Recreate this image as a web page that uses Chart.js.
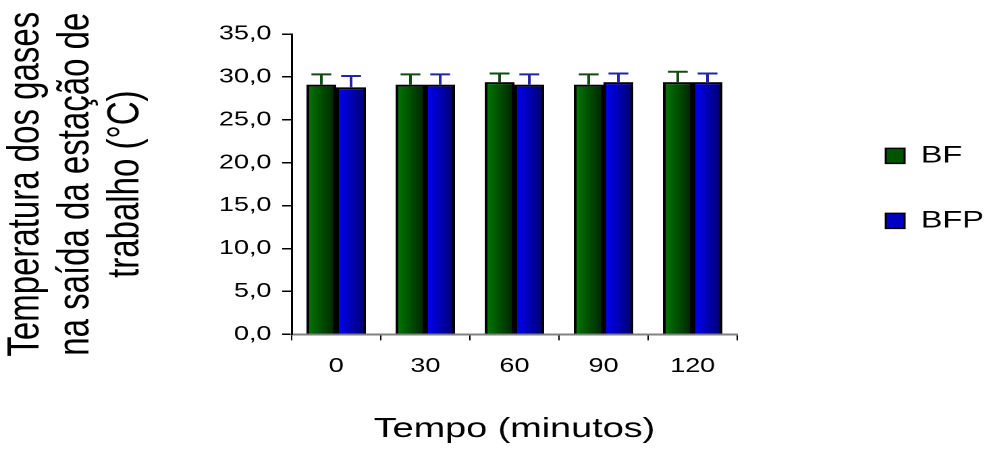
<!DOCTYPE html>
<html>
<head>
<meta charset="utf-8">
<script src="https://cdn.jsdelivr.net/npm/chart.js@4"></script>
<style>
  html, body { margin: 0; padding: 0; background: #fff; overflow: hidden; }
  /* the original picture is stretched sideways, so the chart is drawn narrow and widened */
  #wrap { width: 731px; height: 453px; transform: scaleX(1.3502); transform-origin: 0 0; }
</style>
</head>
<body>
<div id="wrap"><canvas id="chart"></canvas></div>
<script>
const categories = ['0', '30', '60', '90', '120'];
const bfValues = [29.1, 29.1, 29.4, 29.1, 29.4];
const bfErrors = [1.2, 1.2, 1.0, 1.2, 1.2];
const bfpValues = [28.8, 29.1, 29.1, 29.4, 29.4];
const bfpErrors = [1.3, 1.2, 1.2, 1.0, 1.0];
const yTickLabels = ['0,0', '5,0', '10,0', '15,0', '20,0', '25,0', '30,0', '35,0'];

const FONT = "'Liberation Sans', Arial, sans-serif";
const CAT_PCT = 0.667;

// horizontal shading across each bar, like the original
function barGradient(c, light, dark) {
    const chart = c.chart;
    const x = chart.scales.x;
    if (c.type !== 'data' || !x || !x.width) return light;
    const center = x.getPixelForValue(c.dataIndex);
    const w = x.width / categories.length * CAT_PCT / 2;
    const left = c.datasetIndex === 0 ? center - w : center;
    const g = chart.ctx.createLinearGradient(left, 0, left + w, 0);
    g.addColorStop(0, light);
    g.addColorStop(1, dark);
    return g;
}

const errorBars = {
    id: 'errorBars',
    afterDatasetsDraw(chart) {
        const ctx = chart.ctx;
        const y = chart.scales.y;
        const errs = [bfErrors, bfpErrors];
        const colors = ['#124a12', '#2323a8'];
        chart.data.datasets.forEach((ds, i) => {
            chart.getDatasetMeta(i).data.forEach((bar, j) => {
                const top = y.getPixelForValue(ds.data[j] + errs[i][j]);
                const cap = bar.width / 3;
                ctx.save();
                ctx.strokeStyle = colors[i];
                ctx.lineWidth = 2;
                ctx.beginPath();
                ctx.moveTo(bar.x, bar.y);
                ctx.lineTo(bar.x, top);
                ctx.moveTo(bar.x - cap, top);
                ctx.lineTo(bar.x + cap, top);
                ctx.stroke();
                ctx.restore();
            });
        });
    }
};

new Chart(document.getElementById('chart'), {
    type: 'bar',
    data: {
        labels: categories,
        datasets: [{
            label: 'BF',
            data: bfValues,
            backgroundColor: c => barGradient(c, '#007c00', '#002200'),
            borderColor: '#000',
            borderWidth: 2,
            borderSkipped: 'bottom'
        }, {
            label: 'BFP',
            data: bfpValues,
            backgroundColor: c => barGradient(c, '#0000ff', '#00006a'),
            borderColor: '#000',
            borderWidth: 2,
            borderSkipped: 'bottom'
        }]
    },
    options: {
        responsive: true,
        maintainAspectRatio: false,
        animation: false,
        devicePixelRatio: 2,
        layout: { padding: { top: 34, right: 0, bottom: 0, left: 0 } },
        datasets: { bar: { categoryPercentage: CAT_PCT, barPercentage: 1 } },
        plugins: {
            tooltip: { enabled: false },
            legend: {
                position: 'right',
                fullSize: false,
                maxWidth: 116,
                // empty title only nudges the items down a little
                title: { display: true, text: ' ', color: '#000', font: { size: 7 }, padding: 0 },
                labels: {
                    color: '#000',
                    font: { family: FONT, size: 24 },
                    boxWidth: 14,
                    boxHeight: 15,
                    padding: 41,
                    generateLabels: () => [
                        { text: 'BF', fillStyle: '#005400', strokeStyle: '#000', fontColor: '#000', lineWidth: 1.5, datasetIndex: 0 },
                        { text: 'BFP', fillStyle: '#0000c4', strokeStyle: '#000', fontColor: '#000', lineWidth: 1.5, datasetIndex: 1 }
                    ]
                }
            }
        },
        scales: {
            x: {
                grid: { drawOnChartArea: false, drawTicks: true, tickLength: 6, color: '#000', lineWidth: 1 },
                border: { color: '#808080', width: 2 },
                ticks: { color: '#000', font: { family: FONT, size: 20 }, padding: 14 },
                title: {
                    display: true,
                    text: 'Tempo (minutos)',
                    color: '#000',
                    font: { family: FONT, size: 28 },
                    padding: { top: 20, bottom: 7 }
                }
            },
            y: {
                min: 0,
                max: 35,
                afterFit: s => { s.width = 216; },
                ticks: {
                    stepSize: 5,
                    color: '#000',
                    font: { family: FONT, size: 20 },
                    padding: 8,
                    callback: (v, i) => yTickLabels[i]
                },
                grid: { drawOnChartArea: false, drawTicks: true, tickLength: 7, color: '#000', lineWidth: 1.5 },
                border: { color: '#000', width: 1.5 },
                title: {
                    display: true,
                    text: ['Temperatura dos gases', 'na saída da estação de', 'trabalho (°C)'],
                    color: '#000',
                    font: { family: FONT, size: 33, lineHeight: 1.12 },
                    padding: { top: 1, bottom: 0 }
                }
            },
            gap: {
                position: 'right',
                display: true,
                grid: { display: false },
                border: { display: false },
                ticks: { display: false },
                afterFit: s => { s.width = 69; }
            }
        }
    },
    plugins: [errorBars]
});
</script>
</body>
</html>
